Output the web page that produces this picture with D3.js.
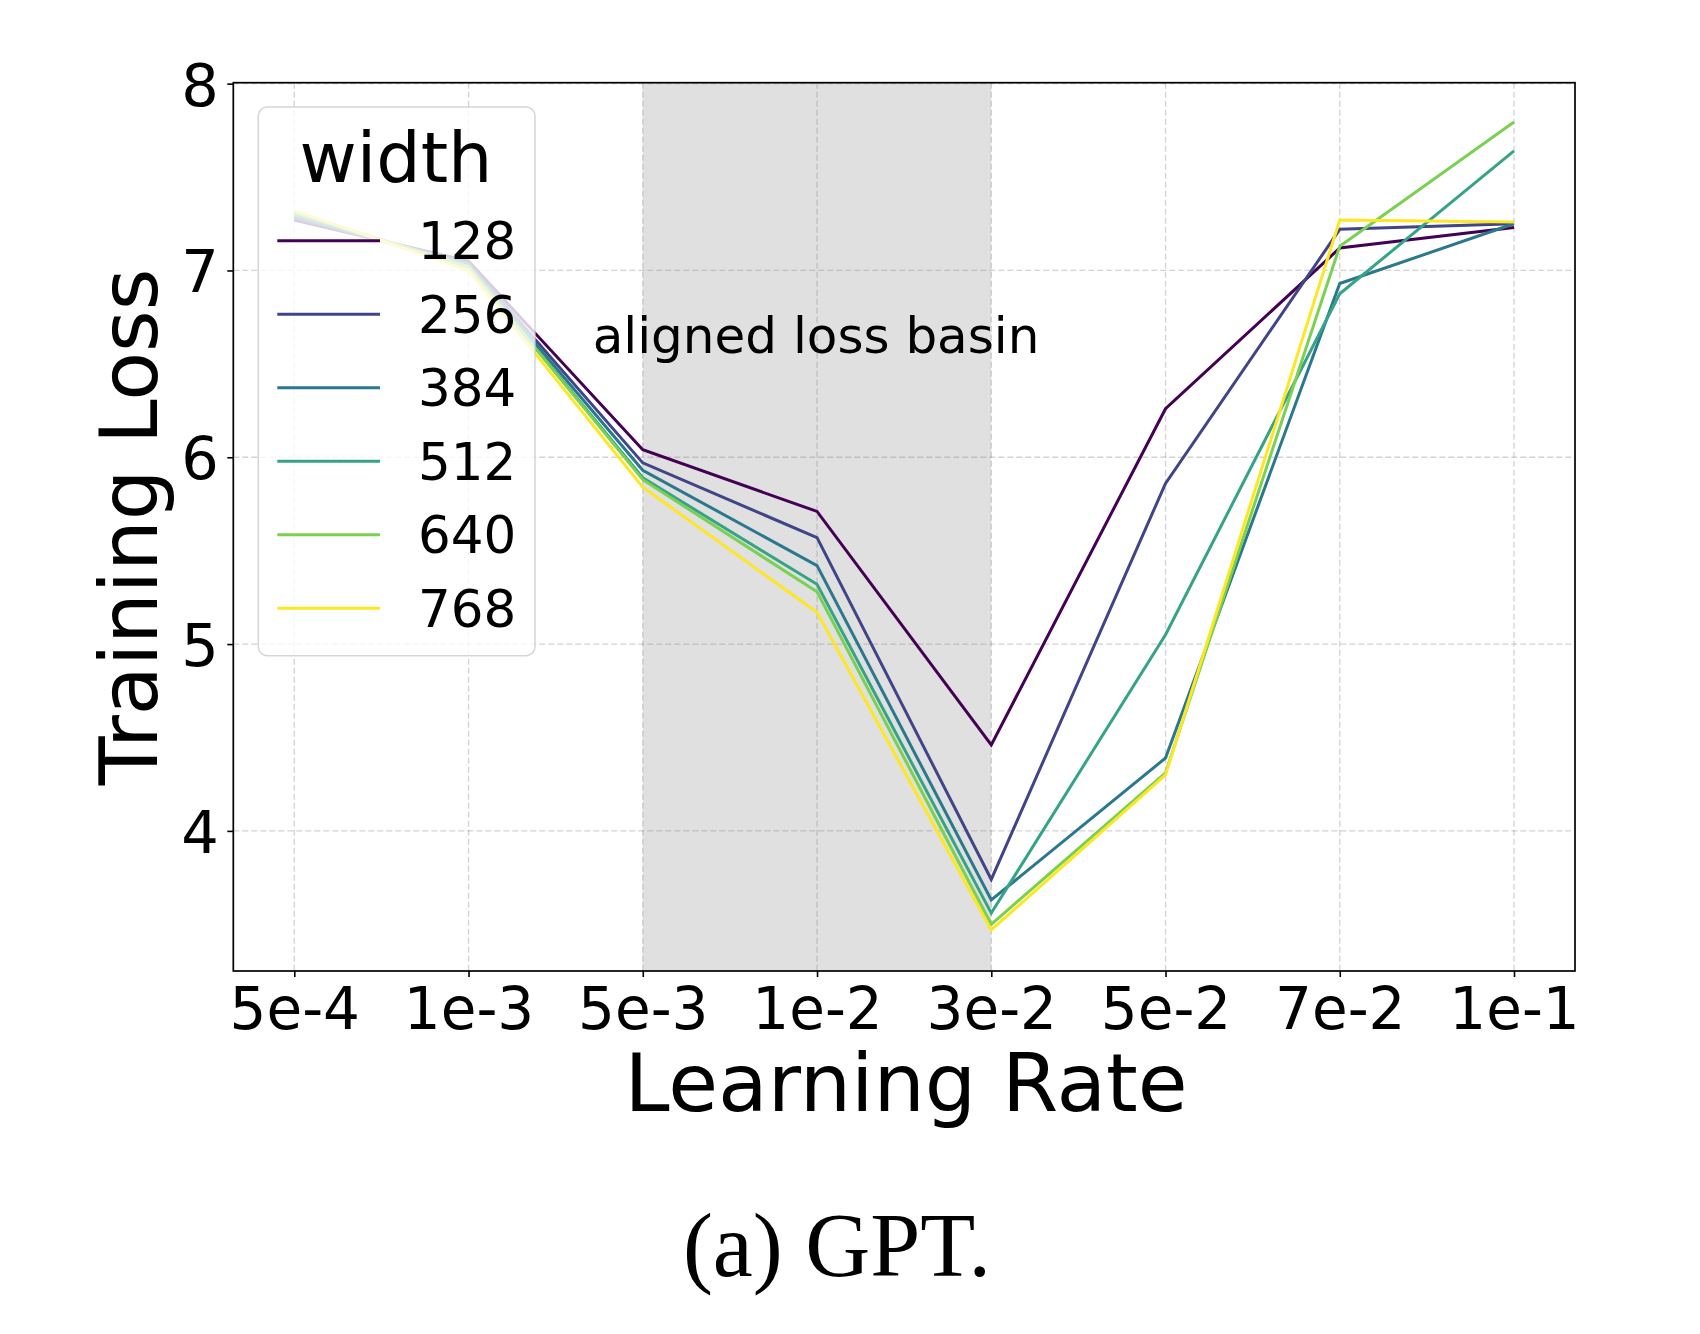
<!DOCTYPE html>
<html>
<head>
<meta charset="utf-8">
<script src="https://cdn.jsdelivr.net/npm/d3@7"></script>
<style>
  html, body { margin: 0; padding: 0; background: #ffffff; }
  svg { display: block; }
</style>
</head>
<body>
<svg id="chart" width="1700" height="1334"></svg>
<script>
// ---- data ----
const lrLabels = ["5e-4", "1e-3", "5e-3", "1e-2", "3e-2", "5e-2", "7e-2", "1e-1"];
const widths = [128, 256, 384, 512, 640, 768];
const loss128 = [7.27, 7.05, 6.04, 5.71, 4.46, 6.26, 7.12, 7.23];
const loss256 = [7.28, 7.04, 5.97, 5.57, 3.74, 5.86, 7.22, 7.25];
const loss384 = [7.29, 7.03, 5.93, 5.42, 3.63, 4.39, 6.93, 7.25];
const loss512 = [7.30, 7.02, 5.89, 5.32, 3.56, 5.05, 6.875, 7.64];
const loss640 = [7.31, 7.02, 5.88, 5.28, 3.50, 4.31, 7.13, 7.795];
const loss768 = [7.32, 7.00, 5.84, 5.17, 3.47, 4.30, 7.27, 7.26];
const yTicks = [4, 5, 6, 7, 8];
const basinStart = 2, basinEnd = 4; // indices of 5e-3 and 3e-2
const colors = ["#440154", "#414487", "#2a788e", "#35a386", "#7ad151", "#fde725"];

const series = [loss128, loss256, loss384, loss512, loss640, loss768]
  .map((vals, i) => ({ width: widths[i], values: vals, color: colors[i] }));

// ---- layout ----
const svg = d3.select("#chart");
const L = 233.3, R = 1575, T = 82.7, B = 971;
const FONT = "'DejaVu Sans', 'Liberation Sans', sans-serif";

const x = d3.scaleLinear().domain([-0.35, lrLabels.length - 1 + 0.35]).range([L, R]);
const y = d3.scaleLinear().domain([3.25, 8.005]).range([B, T]);

// shaded basin
svg.append("rect")
  .attr("x", x(basinStart)).attr("y", T)
  .attr("width", x(basinEnd) - x(basinStart)).attr("height", B - T)
  .attr("fill", "#e0e0e0");

// grid
const grid = svg.append("g");
grid.selectAll("line.gx").data(d3.range(lrLabels.length)).join("line")
  .attr("x1", d => x(d)).attr("x2", d => x(d))
  .attr("y1", T).attr("y2", B)
  .attr("stroke", "#808080").attr("stroke-opacity", 0.35)
  .attr("stroke-width", 1.3).attr("stroke-dasharray", "6,3");
grid.selectAll("line.gy").data(yTicks).join("line")
  .attr("x1", L).attr("x2", R)
  .attr("y1", d => y(d)).attr("y2", d => y(d))
  .attr("stroke", "#808080").attr("stroke-opacity", 0.35)
  .attr("stroke-width", 1.3).attr("stroke-dasharray", "6,3");

// annotation
svg.append("text")
  .attr("x", x(3) - 1).attr("y", 353)
  .attr("text-anchor", "middle")
  .attr("font-family", FONT).attr("font-size", 50)
  .attr("fill", "#000")
  .text("aligned loss basin");

// lines
const line = d3.line().x((d, i) => x(i)).y(d => y(d));
svg.append("g").selectAll("path").data(series).join("path")
  .attr("d", d => line(d.values))
  .attr("fill", "none")
  .attr("stroke", d => d.color)
  .attr("stroke-width", 3)
  .attr("stroke-linejoin", "miter");

// axes
const xAxis = d3.axisBottom(x)
  .tickValues(d3.range(lrLabels.length))
  .tickFormat(i => lrLabels[i])
  .tickSize(6).tickPadding(11);
const gx = svg.append("g").attr("transform", `translate(0,${B})`).call(xAxis);
gx.select(".domain").remove();
gx.selectAll("line").attr("stroke", "#000").attr("stroke-width", 1.6);
gx.selectAll("text").attr("font-family", FONT).attr("font-size", 58).attr("fill", "#000");

const yAxis = d3.axisLeft(y).tickValues(yTicks).tickFormat(d3.format("d"))
  .tickSize(6).tickPadding(8.5);
const gy = svg.append("g").attr("transform", `translate(${L},0)`).call(yAxis);
gy.select(".domain").remove();
gy.selectAll("line").attr("stroke", "#000").attr("stroke-width", 1.6);
gy.selectAll("text").attr("font-family", FONT).attr("font-size", 59)
  .attr("fill", "#000").attr("dy", "0.365em");

// legend
const lg = svg.append("g");
lg.append("rect")
  .attr("x", 258.3).attr("y", 107).attr("width", 276.7).attr("height", 548.7)
  .attr("rx", 9).attr("ry", 9)
  .attr("fill", "#ffffff").attr("fill-opacity", 0.8)
  .attr("stroke", "#cccccc").attr("stroke-opacity", 0.8).attr("stroke-width", 1.5);
lg.append("text")
  .attr("x", 396).attr("y", 182)
  .attr("text-anchor", "middle")
  .attr("font-family", FONT).attr("font-size", 70).attr("fill", "#000")
  .text("width");
const rowY0 = 240.8, rowStep = 73.5;
const rows = lg.selectAll("g.row").data(series).join("g")
  .attr("transform", (d, i) => `translate(0,${rowY0 + i * rowStep})`);
rows.append("line")
  .attr("x1", 277.3).attr("x2", 380).attr("y1", 0).attr("y2", 0)
  .attr("stroke", d => d.color).attr("stroke-width", 3);
rows.append("text")
  .attr("x", 418).attr("y", 18.5)
  .attr("font-family", FONT).attr("font-size", 51.5).attr("fill", "#000")
  .text(d => d.width);

// spines
svg.append("rect")
  .attr("x", L).attr("y", T).attr("width", R - L).attr("height", B - T)
  .attr("fill", "none").attr("stroke", "#000").attr("stroke-width", 1.7);

// axis labels
svg.append("text")
  .attr("x", (L + R) / 2 + 2).attr("y", 1111)
  .attr("text-anchor", "middle")
  .attr("font-family", FONT).attr("font-size", 81).attr("fill", "#000")
  .text("Learning Rate");
svg.append("text")
  .attr("transform", `translate(157,${(T + B) / 2}) rotate(-90)`)
  .attr("text-anchor", "middle")
  .attr("font-family", FONT).attr("font-size", 80).attr("fill", "#000")
  .text("Training Loss");

// caption
svg.append("text")
  .attr("x", 837).attr("y", 1276)
  .attr("text-anchor", "middle")
  .attr("font-family", "'Liberation Serif', 'Times New Roman', serif")
  .attr("font-size", 90).attr("fill", "#000")
  .text("(a) GPT.");
</script>
</body>
</html>
